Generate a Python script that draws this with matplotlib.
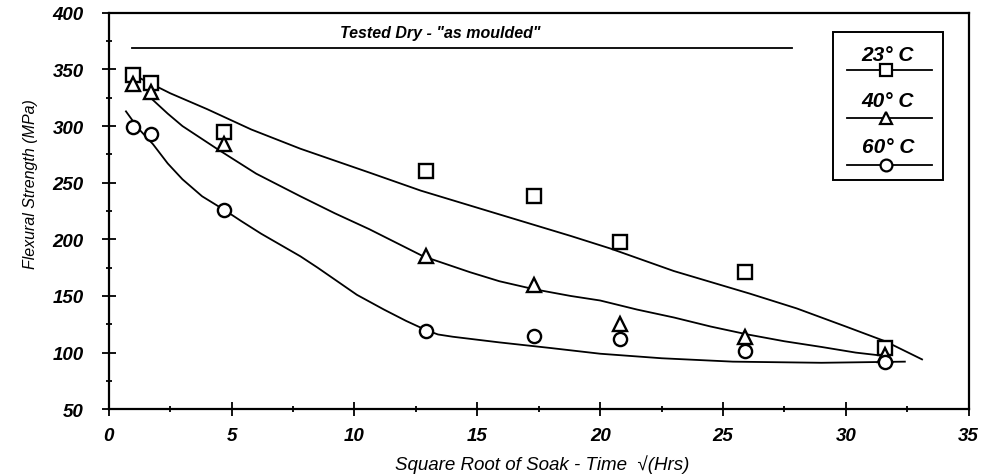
import matplotlib
matplotlib.use('Agg')
from matplotlib import pyplot as plt
from matplotlib.patches import Rectangle
from matplotlib.ticker import MultipleLocator

plt.rcParams['font.family'] = ['Liberation Sans', 'DejaVu Sans']

# sqrt of soak time (hrs) at which specimens were tested
soak_root = [1.0, 1.73, 4.7, 12.9, 17.3, 20.8, 25.9, 31.6]

# measured flexural strength (MPa)
strength_23 = [345, 338, 295, 260, 238, 198, 171, 104]
strength_40 = [337, 330, 284, 185, 160, 125, 114, 98]
strength_60 = [299, 293, 226, 119, 115, 112, 101, 92]

# fitted trend curves, read as (x, y) knots
fit_23_x = [1.3, 2.5, 4.0, 5.8, 7.8, 10.6, 12.7, 15.9, 18.8, 20.4, 23.0,
            26.1, 28.0, 30.0, 31.6, 33.1]
fit_23_y = [342, 329, 315, 297, 280, 259, 243, 222, 203, 192, 172,
            152, 139, 123, 110, 94]
fit_40_x = [1.8, 2.4, 3.0, 3.7, 4.4, 5.2, 6.0, 6.9, 7.8, 9.2, 10.6, 11.7,
            12.8, 14.7, 15.9, 17.3, 18.8, 20.0, 21.5, 23.0, 24.5, 26.0,
            27.5, 29.0, 30.4, 31.6]
fit_40_y = [323, 311, 300, 290, 280, 269, 258, 248, 238, 223, 209, 197,
            185, 171, 163, 156, 150, 146, 138, 131, 123, 116,
            110, 105, 100, 97]
fit_60_x = [0.7, 1.2, 1.8, 2.4, 3.0, 3.8, 4.7, 5.4, 6.2, 7.0, 7.8, 8.5,
            9.1, 10.1, 11.2, 12.1, 12.9, 13.4, 14.0, 15.9, 18.0, 20.0,
            22.5, 25.4, 29.0, 32.4]
fit_60_y = [313, 298, 284, 267, 253, 238, 226, 216, 205, 195, 185, 175,
            166, 151, 138, 128, 120, 116, 114, 109, 104, 99,
            95, 92, 91, 92]

series = [
    ('23° C', 's', strength_23, fit_23_x, fit_23_y),
    ('40° C', '^', strength_40, fit_40_x, fit_40_y),
    ('60° C', 'o', strength_60, fit_60_x, fit_60_y),
]

fig = plt.figure(figsize=(10.07, 4.77), dpi=100)
ax = fig.add_axes([0.108, 0.140, 0.854, 0.831])

for label, marker, values, fx, fy in series:
    ax.plot(fx, fy, color='black', lw=1.3, zorder=2)
    ax.plot(soak_root, values, linestyle='none', marker=marker, markersize=9.5,
            markerfacecolor='white', markeredgecolor='black',
            markeredgewidth=1.7, zorder=3)

# reference level for the dry specimens
ax.plot([0.94, 27.8], [369, 369], color='black', lw=1.3)
ax.text(13.5, 376, 'Tested Dry - "as moulded"', ha='center', va='bottom',
        fontsize=11.5, fontstyle='italic', fontweight='bold')

ax.set_xlim(0, 35)
ax.set_ylim(50, 400)
ax.xaxis.set_major_locator(MultipleLocator(5))
ax.xaxis.set_minor_locator(MultipleLocator(2.5))
ax.yaxis.set_major_locator(MultipleLocator(50))
ax.yaxis.set_minor_locator(MultipleLocator(25))
ax.tick_params(which='major', direction='inout', length=10, width=1.3)
ax.tick_params(which='minor', direction='inout', length=4, width=1.3)
ax.tick_params(axis='x', which='major', pad=8)
ax.tick_params(axis='y', which='major', pad=13)
for lab in ax.get_xticklabels() + ax.get_yticklabels():
    lab.set_fontsize(13.5)
    lab.set_fontstyle('italic')
    lab.set_fontweight('bold')

for side in ['left', 'bottom', 'right', 'top']:
    ax.spines[side].set_linewidth(1.6)

ax.set_xlabel('Square Root of Soak - Time  \u221a(Hrs)', fontsize=13.5,
              fontstyle='italic')
ax.xaxis.set_label_coords(0.504, -0.113)
ax.set_ylabel('Flexural Strength (MPa)', fontsize=11.5,
              fontstyle='italic')
ax.yaxis.set_label_coords(-0.082, 0.57)

# hand-built key: label above each line sample
ax.add_patch(Rectangle((0.842, 0.578), 0.128, 0.374, transform=ax.transAxes,
                       facecolor='white', edgecolor='black', lw=1.4, zorder=4))
key_rows = [(0.896, 0.856), (0.778, 0.735), (0.662, 0.616)]
for (label, marker, *_), (ty, ly) in zip(series, key_rows):
    ax.text(0.906, ty, label, transform=ax.transAxes, ha='center',
            va='center', fontsize=15, fontstyle='italic', fontweight='bold',
            zorder=5)
    ax.plot([0.858, 0.957], [ly, ly], transform=ax.transAxes, color='black',
            lw=1.3, zorder=5)
    ax.plot([0.9035], [ly], transform=ax.transAxes, marker=marker,
            markersize=8.5, markerfacecolor='white', markeredgecolor='black',
            markeredgewidth=1.6, zorder=6)

fig.savefig('out.png', dpi=100)
